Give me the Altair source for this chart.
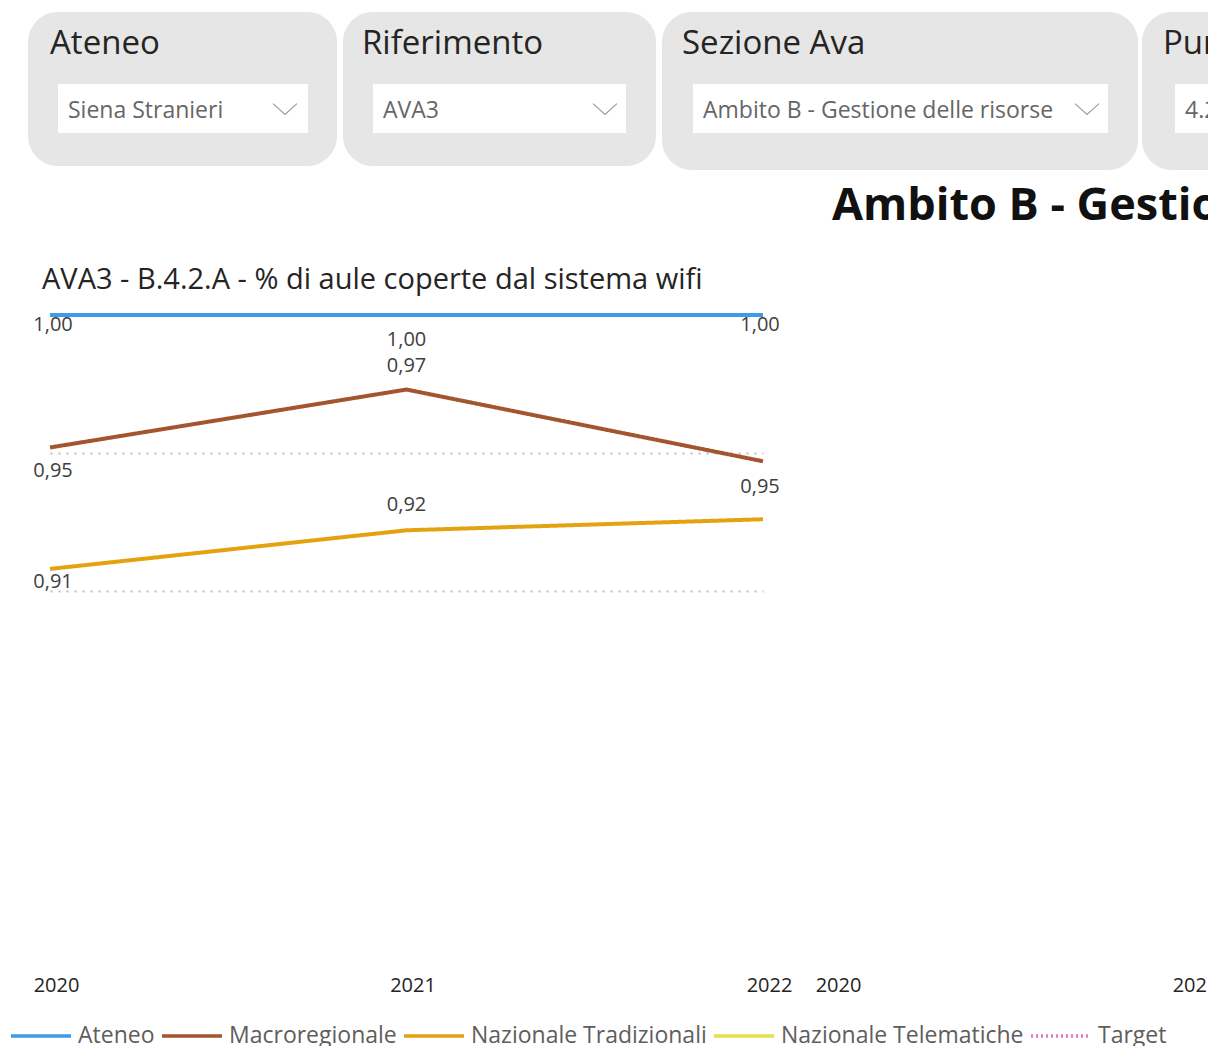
import altair as alt
import pandas as pd

# ---------------- data ----------------
anni = ["2020", "2021", "2022"]
serie = ["Ateneo", "Macroregionale", "Nazionale Tradizionali", "Nazionale Telematiche", "Target"]
ateneo = [1.00, 1.00, 1.00]
macroregionale = [0.952, 0.973, 0.947]
nazionale_tradizionali = [0.908, 0.922, 0.926]

colori = ["#3D9BE9", "#A3552F", "#E5A210", "#E6E04C", "#E377C2"]
tratteggi = [[1, 0], [1, 0], [1, 0], [1, 0], [2, 3]]

slicer_titoli = ["Ateneo", "Riferimento", "Sezione Ava", "Punto di attenzione"]
slicer_valori = ["Siena Stranieri", "AVA3", "Ambito B - Gestione delle risorse", "4.2"]
titolo_grafico = "AVA3 - B.4.2.A - % di aule coperte dal sistema wifi"
titolo_pagina = "Ambito B - Gestione delle risorse"

FONT = "Open Sans"

rows = []
for nome, valori in [("Ateneo", ateneo), ("Macroregionale", macroregionale),
                     ("Nazionale Tradizionali", nazionale_tradizionali)]:
    for a, v in zip(anni, valori):
        rows.append({"Serie": nome, "Anno": a, "Valore": v})
df = pd.DataFrame(rows)

# plot origin on screen
X0, Y0 = 50, 315
W, H = 713, 650


def px(v):
    return alt.value(v - X0)


def py(v):
    return alt.value(v - Y0)


uno = alt.Data(values=[{"k": 1}])


def rett(x1, x2, y1, y2, colore, raggio=0):
    return alt.Chart(uno).mark_rect(color=colore, cornerRadius=raggio).encode(
        x=px(x1), x2=px(x2), y=py(y1), y2=py(y2))


def testo(t, x, y, size, colore, weight="normal"):
    return alt.Chart(uno).mark_text(text=t, align="left", baseline="middle", fontSize=size,
                                    color=colore, fontWeight=weight, font=FONT).encode(
        x=px(x), y=py(y))


def freccia(x, y):
    return alt.Chart(uno).mark_point(shape="M-1,-0.45L0,0.45L1,-0.45", filled=False, size=576,
                                     strokeWidth=1.1, color="#9A9A9A", opacity=1).encode(
        x=px(x), y=py(y))


# slicer geometry (screen px): grey box x1,x2,y2 ; white box x1,x2 ; title x ; value x ; chevron x
geo = [
    (28, 337, 166, 58, 308, 50, 68, 285),
    (343, 656, 166, 373, 626, 362, 383, 605),
    (662, 1138, 170, 693, 1108, 682, 703, 1087),
    (1142, 1460, 170, 1175, 1420, 1163, 1185, 1400),
]

decor = []
for (gx1, gx2, gy2, wx1, wx2, tx, vx, cx), tit, val in zip(geo, slicer_titoli, slicer_valori):
    decor.append(rett(gx1, gx2, 12, gy2, "#E6E6E6", 30))
    decor.append(rett(wx1, wx2, 84, 133, "#FFFFFF"))
    decor.append(testo(tit, tx, 44, 33, "#252423"))
    decor.append(testo(val, vx, 111, 23, "#666666"))
    decor.append(freccia(cx, 109))

decor.append(testo(titolo_pagina, 832, 206, 45, "#111111", "bold"))
decor.append(testo(titolo_grafico, 42, 280, 29, "#252423"))

# ---------------- main chart ----------------
legenda = alt.Legend(orient="none", legendX=-41, legendY=689, direction="horizontal", title=None,
                     symbolType="stroke", symbolSize=3600, symbolStrokeWidth=3.5,
                     labelFontSize=23, labelFont=FONT, labelColor="#605E5C", labelOffset=5,
                     columnPadding=0, labelLimit=0, labelBaseline="middle")

asse_x = alt.Axis(title=None, labelAngle=0, domain=False, ticks=False, grid=False,
                  labelFontSize=20, labelFont=FONT, labelColor="#252423",
                  labelPadding=10, labelOffset=6, orient="bottom")

X = alt.X("Anno:O", scale=alt.Scale(type="point", padding=0), axis=asse_x)
Y = alt.Y("Valore:Q", scale=alt.Scale(domain=[0.7645, 1.0], nice=False, zero=False),
          axis=alt.Axis(title=None, labels=False, ticks=False, domain=False, grid=True,
                        values=[0.90, 0.95], gridDash=[2, 6], gridColor="#BDBDBD", gridWidth=2))

base = alt.Chart(df).encode(x=X, y=Y)

linee = base.mark_line(strokeWidth=4).encode(
    color=alt.Color("Serie:N", scale=alt.Scale(domain=serie, range=colori), legend=legenda,
                    sort=serie),
    strokeDash=alt.StrokeDash("Serie:N", scale=alt.Scale(domain=serie, range=tratteggi),
                              legend=legenda, sort=serie),
)

posizioni = [
    ("Ateneo", "2020", 3, 10), ("Ateneo", "2021", 0, 25), ("Ateneo", "2022", -3, 10),
    ("Macroregionale", "2020", 3, 24), ("Macroregionale", "2021", 0, -24),
    ("Macroregionale", "2022", -3, 26),
    ("Nazionale Tradizionali", "2020", 3, 13), ("Nazionale Tradizionali", "2021", 0, -25),
]

etichette = []
for s, a, dx, dy in posizioni:
    etichette.append(
        base.transform_filter(f"datum.Serie == '{s}' && datum.Anno == '{a}'")
        .transform_calculate(Etichetta="replace(format(datum.Valore, '.2f'), '.', ',')")
        .mark_text(dx=dx, dy=dy, fontSize=20, font=FONT, color="#404040", baseline="middle")
        .encode(text="Etichetta:N")
    )

principale = alt.layer(linee, *etichette)

# right (empty) panel with its own year axis
destra = alt.Chart(pd.DataFrame({"Anno": anni})).mark_point(opacity=0).encode(
    x=alt.X("Anno:O", scale=alt.Scale(type="point", padding=0,
                                       range=[832 - X0, 1189 - X0 + 357]),
            axis=asse_x),
    y=alt.value(0),
)

chart = alt.layer(*decor, principale, destra).resolve_scale(x="independent").properties(
    width=W, height=H,
    padding={"left": X0 - 8, "top": Y0 - 8, "right": 1200 - (X0 - 8) - W,
             "bottom": 1038 - (Y0 - 8) - H},
    autosize=alt.AutoSizeParams(type="none"),
).configure_view(stroke=None)

chart.save("out.html", embed_options={"renderer": "svg", "actions": False})
